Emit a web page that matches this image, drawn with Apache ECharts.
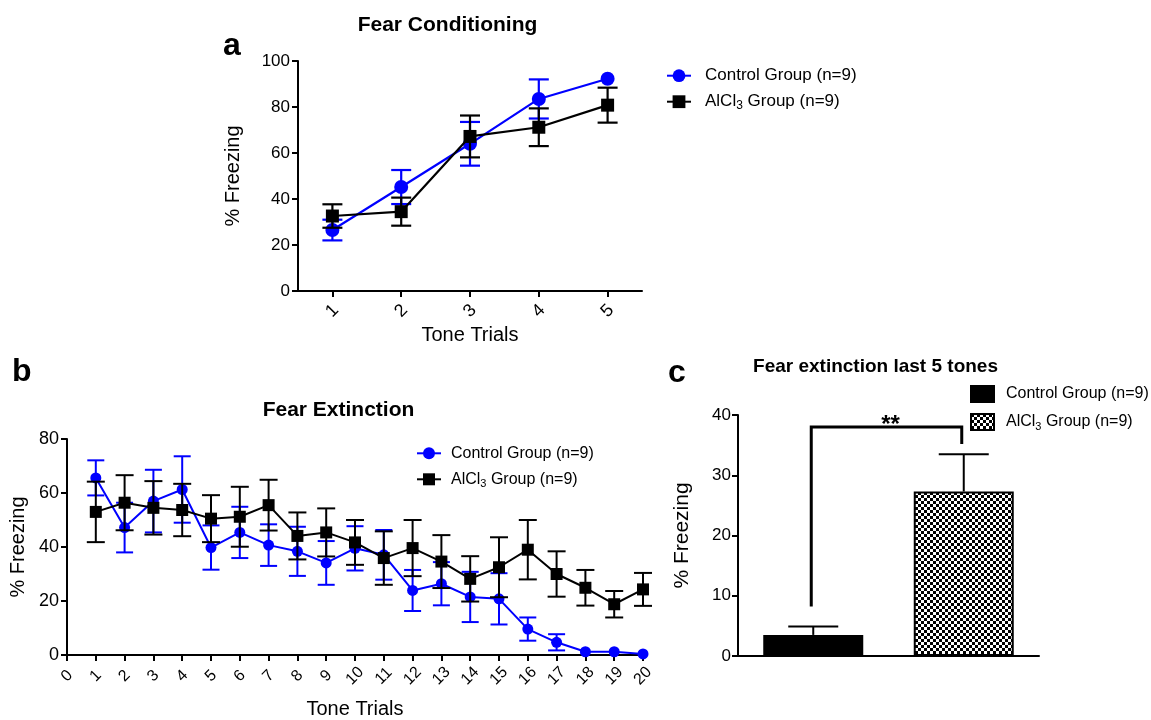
<!DOCTYPE html>
<html><head><meta charset="utf-8">
<script src="https://cdn.jsdelivr.net/npm/echarts@6/dist/echarts.min.js"></script>
<style>html,body{margin:0;padding:0;background:#fff}#c{width:1151px;height:720px}</style>
</head><body><div id="c"></div>
<script>
// ---- Panel a: Fear Conditioning ----
const condTrials = ['1', '2', '3', '4', '5'];
const condCtrlMean = [26.5, 45.2, 64.0, 83.5, 92.3];
const condCtrlSem = [4.5, 7.4, 9.5, 8.5, 1.5];
const condAlclMean = [32.6, 34.5, 67.2, 71.2, 80.8];
const condAlclSem = [5.1, 6.1, 9.1, 8.2, 7.6];

// ---- Panel b: Fear Extinction ----
const extTrials = [1, 2, 3, 4, 5, 6, 7, 8, 9, 10, 11, 12, 13, 14, 15, 16, 17, 18, 19, 20];
const extCtrlMean = [65.6, 47.2, 57.0, 61.3, 39.8, 45.4, 40.7, 38.4, 34.1, 39.5, 37.1, 23.9, 26.4, 21.5, 20.8, 9.6, 4.7, 1.2, 1.2, 0.4];
const extCtrlSem = [6.5, 9.2, 11.6, 12.3, 8.2, 9.5, 7.7, 9.1, 8.1, 8.2, 9.2, 7.6, 8.0, 9.3, 9.5, 4.3, 3.0, 0.8, 0.8, 0.4];
const extAlclMean = [53.0, 56.4, 54.5, 53.7, 50.5, 51.2, 55.5, 44.1, 45.4, 41.7, 35.9, 39.6, 34.6, 28.2, 32.5, 39.0, 30.0, 24.9, 18.8, 24.3];
const extAlclSem = [11.2, 10.2, 9.9, 9.7, 8.7, 11.1, 9.4, 8.7, 8.9, 8.3, 9.9, 10.4, 9.8, 8.4, 11.1, 11.0, 8.4, 6.6, 4.9, 6.1];

// ---- Panel c: last 5 tones ----
const barGroups = ['Control', 'AlCl3'];
const barMean = [3.5, 27.3];
const barSem = [1.4, 6.2];
const sigBracket = { leftBottom: 8.2, top: 38.0, rightBottom: 35.2, label: '**' };

// tick settings
const yTicksA = { min: 0, max: 100, interval: 20 };
const yTicksB = { min: 0, max: 80, interval: 20 };
const xTicksB = { min: 0, max: 20, interval: 1 };
const yTicksC = { min: 0, max: 40, interval: 10 };

const FONT = '"Liberation Sans", Arial, sans-serif';
const BLUE = '#0000ff';
const BLACK = '#000000';

const legendLabels = {
  a_ctrl: 'Control Group (n=9)', a_alcl: 'AlCl{sub|3} Group (n=9)',
  b_ctrl: 'Control Group (n=9)', b_alcl: 'AlCl{sub|3} Group (n=9)',
  c_ctrl: 'Control Group (n=9)', c_alcl: 'AlCl{sub|3} Group (n=9)'
};

// checkerboard pattern
const cv = document.createElement('canvas');
cv.width = 6; cv.height = 6;
const cx = cv.getContext('2d');
cx.fillStyle = '#fff'; cx.fillRect(0, 0, 6, 6);
cx.fillStyle = '#000'; cx.fillRect(0, 0, 3, 3); cx.fillRect(3, 3, 3, 3);
const checker = { image: cv, repeat: 'repeat' };

// error bars; bars shorter than the marker radius are hidden behind the marker (as in the original)
function errBars(capW, lw, color, upOnly, hideBelowPx) {
  return function (params, api) {
    const x = api.value(0), m = api.value(1), s = api.value(2);
    const pTop = api.coord([x, m + s]);
    const pMid = api.coord([x, m]);
    const pBot = api.coord([x, upOnly ? m : m - s]);
    if (hideBelowPx && Math.abs(pMid[1] - pTop[1]) < hideBelowPx) return { type: 'group', children: [] };
    const h = capW / 2;
    const st = { stroke: color, lineWidth: lw, fill: null };
    const children = [
      { type: 'line', shape: { x1: pTop[0], y1: pTop[1], x2: pBot[0], y2: pBot[1] }, style: st },
      { type: 'line', shape: { x1: pTop[0] - h, y1: pTop[1], x2: pTop[0] + h, y2: pTop[1] }, style: st }
    ];
    if (!upOnly) children.push({ type: 'line', shape: { x1: pBot[0] - h, y1: pBot[1], x2: pBot[0] + h, y2: pBot[1] }, style: st });
    return { type: 'group', children };
  };
}

const axLine = { show: true, lineStyle: { color: BLACK, width: 2 } };
const axTick = { show: true, length: 6, lineStyle: { color: BLACK, width: 2 } };

function legendCfg(left, top, names, fs, gap, itemW, itemH, padLeft) {
  return {
    left, top, padding: 0, orient: 'vertical', itemGap: gap, itemWidth: itemW, itemHeight: itemH,
    data: names, selectedMode: false,
    formatter: n => legendLabels[n],
    textStyle: {
      fontFamily: FONT, fontSize: fs, color: BLACK, lineHeight: 20, padding: [0, 0, 0, padLeft],
      rich: { sub: { fontFamily: FONT, fontSize: Math.round(fs * 0.68), lineHeight: 12, verticalAlign: 'bottom', color: BLACK } }
    }
  };
}

const chart = echarts.init(document.getElementById('c'), null, { renderer: 'canvas' });
chart.setOption({
  animation: false,
  backgroundColor: '#fff',
  graphic: [
    { type: 'text', left: 223, top: 30, style: { text: 'a', font: 'bold 32px ' + FONT, fill: BLACK } },
    { type: 'text', left: 12, top: 356, style: { text: 'b', font: 'bold 32px ' + FONT, fill: BLACK } },
    { type: 'text', left: 668, top: 357, style: { text: 'c', font: 'bold 32px ' + FONT, fill: BLACK } },
    { type: 'text', x: 447.5, y: 25, style: { text: 'Fear Conditioning', font: 'bold 21px ' + FONT, fill: BLACK, align: 'center', verticalAlign: 'middle' } },
    { type: 'text', x: 338.5, y: 410, style: { text: 'Fear Extinction', font: 'bold 21px ' + FONT, fill: BLACK, align: 'center', verticalAlign: 'middle' } },
    { type: 'text', x: 875.5, y: 366.5, style: { text: 'Fear extinction last 5 tones', font: 'bold 19px ' + FONT, fill: BLACK, align: 'center', verticalAlign: 'middle' } }
  ],
  legend: [
    legendCfg(666, 65.7, ['a_ctrl', 'a_alcl'], 17, 6, 24, 16, 9),
    legendCfg(416, 443.3, ['b_ctrl', 'b_alcl'], 16, 6, 24, 15, 5),
    Object.assign(legendCfg(970, 384, ['c_ctrl', 'c_alcl'], 16, 8, 23, 16, 7), { icon: 'rect' })
  ],
  grid: [
    { left: 298, top: 61, width: 344, height: 230 },
    { left: 67, top: 439, width: 576, height: 218 },
    { left: 738, top: 415, width: 301, height: 241 }
  ],
  xAxis: [
    {
      gridIndex: 0, type: 'category', data: condTrials, boundaryGap: true,
      axisLine: axLine, axisTick: Object.assign({ alignWithLabel: true }, axTick),
      axisLabel: { rotate: 45, align: 'center', verticalAlign: 'middle', margin: 20, fontSize: 18, fontFamily: FONT, color: BLACK },
      name: 'Tone Trials', nameLocation: 'middle', nameGap: 34,
      nameTextStyle: { fontSize: 20, fontFamily: FONT, color: BLACK }
    },
    {
      gridIndex: 1, type: 'value', min: xTicksB.min, max: xTicksB.max, interval: xTicksB.interval,
      splitLine: { show: false }, axisLine: axLine, axisTick: axTick,
      axisLabel: { rotate: 45, align: 'center', verticalAlign: 'middle', margin: 21, fontSize: 16, fontFamily: FONT, color: BLACK, showMinLabel: true, showMaxLabel: true },
      name: 'Tone Trials', nameLocation: 'middle', nameGap: 44,
      nameTextStyle: { fontSize: 20, fontFamily: FONT, color: BLACK }
    },
    {
      gridIndex: 2, type: 'category', data: barGroups, boundaryGap: true,
      axisLine: axLine, axisTick: { show: false }, axisLabel: { show: false }
    }
  ],
  yAxis: [
    {
      gridIndex: 0, type: 'value', min: yTicksA.min, max: yTicksA.max, interval: yTicksA.interval,
      splitLine: { show: false }, axisLine: axLine, axisTick: axTick,
      axisLabel: { margin: 8, fontSize: 17, fontFamily: FONT, color: BLACK },
      name: '% Freezing', nameLocation: 'middle', nameGap: 55,
      nameTextStyle: { fontSize: 20, fontFamily: FONT, color: BLACK }
    },
    {
      gridIndex: 1, type: 'value', min: yTicksB.min, max: yTicksB.max, interval: yTicksB.interval,
      splitLine: { show: false }, axisLine: axLine, axisTick: axTick,
      axisLabel: { margin: 8, fontSize: 18, fontFamily: FONT, color: BLACK },
      name: '% Freezing', nameLocation: 'middle', nameGap: 35,
      nameTextStyle: { fontSize: 20, fontFamily: FONT, color: BLACK }
    },
    {
      gridIndex: 2, type: 'value', min: yTicksC.min, max: yTicksC.max, interval: yTicksC.interval,
      splitLine: { show: false }, axisLine: axLine, axisTick: axTick,
      axisLabel: { margin: 7, fontSize: 17, fontFamily: FONT, color: BLACK },
      name: '% Freezing', nameLocation: 'middle', nameGap: 45,
      nameTextStyle: { fontSize: 21, fontFamily: FONT, color: BLACK }
    }
  ],
  series: [
    // panel a
    { type: 'custom', name: 'a_ctrl_err', xAxisIndex: 0, yAxisIndex: 0, z: 2,
      renderItem: errBars(20, 2.2, BLUE, false, 7),
      data: condTrials.map((t, i) => [i, condCtrlMean[i], condCtrlSem[i]]) },
    { type: 'line', name: 'a_ctrl', xAxisIndex: 0, yAxisIndex: 0, z: 3,
      data: condCtrlMean, symbol: 'circle', symbolSize: 14,
      lineStyle: { color: BLUE, width: 2.2 }, itemStyle: { color: BLUE } },
    { type: 'custom', name: 'a_alcl_err', xAxisIndex: 0, yAxisIndex: 0, z: 4,
      renderItem: errBars(20, 2.2, BLACK, false, 7),
      data: condTrials.map((t, i) => [i, condAlclMean[i], condAlclSem[i]]) },
    { type: 'line', name: 'a_alcl', xAxisIndex: 0, yAxisIndex: 0, z: 5,
      data: condAlclMean, symbol: 'rect', symbolSize: 13,
      lineStyle: { color: BLACK, width: 2.2 }, itemStyle: { color: BLACK } },
    // panel b
    { type: 'custom', name: 'b_ctrl_err', xAxisIndex: 1, yAxisIndex: 1, z: 2,
      renderItem: errBars(17, 2, BLUE, false, 5.5),
      data: extTrials.map((t, i) => [t, extCtrlMean[i], extCtrlSem[i]]) },
    { type: 'line', name: 'b_ctrl', xAxisIndex: 1, yAxisIndex: 1, z: 3,
      data: extTrials.map((t, i) => [t, extCtrlMean[i]]), symbol: 'circle', symbolSize: 11,
      lineStyle: { color: BLUE, width: 2 }, itemStyle: { color: BLUE } },
    { type: 'custom', name: 'b_alcl_err', xAxisIndex: 1, yAxisIndex: 1, z: 4,
      renderItem: errBars(18, 2, BLACK, false, 6),
      data: extTrials.map((t, i) => [t, extAlclMean[i], extAlclSem[i]]) },
    { type: 'line', name: 'b_alcl', xAxisIndex: 1, yAxisIndex: 1, z: 5,
      data: extTrials.map((t, i) => [t, extAlclMean[i]]), symbol: 'rect', symbolSize: 12,
      lineStyle: { color: BLACK, width: 2 }, itemStyle: { color: BLACK } },
    // panel c
    { type: 'bar', name: 'c_ctrl', xAxisIndex: 2, yAxisIndex: 2, z: 2,
      data: [barMean[0], '-'], barWidth: 100, barGap: '-100%',
      itemStyle: { color: BLACK, borderColor: BLACK, borderWidth: 2 } },
    { type: 'bar', name: 'c_alcl', xAxisIndex: 2, yAxisIndex: 2, z: 2,
      data: ['-', barMean[1]], barWidth: 100, barGap: '-100%',
      itemStyle: { color: checker, borderColor: BLACK, borderWidth: 2 } },
    { type: 'custom', name: 'c_err', xAxisIndex: 2, yAxisIndex: 2, z: 3,
      renderItem: errBars(50, 2, BLACK, true, 0),
      data: barGroups.map((g, i) => [i, barMean[i], barSem[i]]) },
    { type: 'custom', name: 'c_sig', xAxisIndex: 2, yAxisIndex: 2, z: 4,
      data: [[0, sigBracket.top]],
      renderItem: function (params, api) {
        const p1 = api.coord([0, sigBracket.leftBottom]);
        const p2 = api.coord([0, sigBracket.top]);
        const p3 = api.coord([1, sigBracket.top]);
        const p4 = api.coord([1, sigBracket.rightBottom]);
        return { type: 'group', children: [
          { type: 'polyline', shape: { points: [[p1[0] - 2, p1[1]], [p2[0] - 2, p2[1]], [p3[0] - 2, p3[1]], [p4[0] - 2, p4[1]]] },
            style: { stroke: BLACK, lineWidth: 3, fill: null } },
          { type: 'text', x: (p2[0] + p3[0]) / 2 + 2, y: p2[1] - 2,
            style: { text: sigBracket.label, font: 'bold 24px ' + FONT, fill: BLACK, align: 'center', verticalAlign: 'middle' } }
        ] };
      } }
  ]
});
</script>
</body></html>
